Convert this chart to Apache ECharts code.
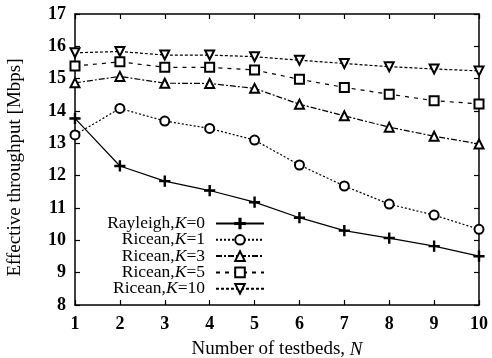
<!DOCTYPE html>
<html><head><meta charset="utf-8">
<script src="https://cdn.jsdelivr.net/npm/echarts@6/dist/echarts.min.js"></script>
<style>html,body{margin:0;padding:0;background:#fff}#c{width:492px;height:358px}</style>
</head><body><div id="c"></div>
<script>
const xs = [1,2,3,4,5,6,7,8,9,10];
const seriesNames = ['Rayleigh,K=0','Ricean,K=1','Ricean,K=3','Ricean,K=5','Ricean,K=10'];
const kLabels = ['Rayleigh,|0','Ricean,|1','Ricean,|3','Ricean,|5','Ricean,|10'];
const rayleigh0 = [13.77,12.30,11.83,11.54,11.18,10.70,10.30,10.07,9.82,9.51];
const ricean1 = [13.26,14.08,13.69,13.46,13.10,12.33,11.68,11.12,10.78,10.34];
const ricean3 = [14.87,15.07,14.86,14.85,14.70,14.21,13.85,13.50,13.22,12.98];
const ricean5 = [15.39,15.52,15.35,15.35,15.27,14.98,14.73,14.52,14.32,14.22];
const ricean10 = [15.80,15.84,15.73,15.73,15.68,15.57,15.47,15.37,15.30,15.24];
const yTicks = [8,9,10,11,12,13,14,15,16,17];

const values = [rayleigh0, ricean1, ricean3, ricean5, ricean10];
const symbols = [
  'path://M-0.6,-5H0.6V-0.6H5V0.6H0.6V5H-0.6V0.6H-5V-0.6H-0.6Z',
  'emptyCircle','emptyTriangle','emptyRect','emptyTriangle'
];
const rotates = [0,0,0,0,180];
const sizes = [10,9,9,9,9];
const dashes = ['solid',[2,2],[6,2,2,2],[4,5],[3,2]];
const serif = '"Liberation Serif","DejaVu Serif",serif';

const chart = echarts.init(document.getElementById('c'), null, {renderer:'canvas'});
const series = seriesNames.map((n,i)=>({
  name:n, type:'line',
  data: xs.map((x,j)=>[x, values[i][j]]),
  symbol: symbols[i], symbolSize: sizes[i], symbolRotate: rotates[i],
  showAllSymbol:true,
  lineStyle:{color:'#000', width:1.2, type:dashes[i]},
  itemStyle:{color:'#000', borderColor:'#000', borderWidth:1.2},
  emphasis:{disabled:true},
  animation:false,
  z: 5-i
}));

const axisCommon = {
  axisLine:{show:true,onZero:false,lineStyle:{color:'#000',width:1.5}},
  axisTick:{show:true,inside:true,length:5,lineStyle:{color:'#000',width:1.2}},
  splitLine:{show:false}
};

chart.setOption({
  animation:false,
  backgroundColor:'#fff',
  grid:{left:75,right:13,top:14,bottom:53,outerBoundsMode:'none',containLabel:false},
  legend:{
    orient:'vertical', align:'right', right:222, top:209.5,
    itemWidth:48, itemHeight:12, itemGap:-1.7,
    data: seriesNames,
    formatter: function(name){
      const i = seriesNames.indexOf(name);
      const p = kLabels[i].split('|');
      return '{a|'+p[0]+'}{i|K}{b|='+p[1]+'}';
    },
    textStyle:{
      fontFamily:serif, fontSize:17.5, color:'#000',
      rich:{
        a:{fontFamily:serif,fontSize:17.5,color:'#000'},
        i:{fontFamily:serif,fontSize:17.5,color:'#000',fontStyle:'italic'},
        b:{fontFamily:serif,fontSize:17.5,color:'#000',padding:[0,6,0,0]}
      }
    }
  },
  xAxis:[
    Object.assign({
      type:'value', min:1, max:10, interval:1, position:'bottom',
      name:'Number of testbeds, {i|N}', nameLocation:'middle', nameGap:35,
      nameTextStyle:{fontFamily:serif,fontSize:19,color:'#000',
        rich:{i:{fontFamily:serif,fontSize:19,fontStyle:'italic',color:'#000'}}},
      axisLabel:{fontFamily:serif,fontSize:18,fontWeight:'bold',color:'#000',margin:10}
    }, axisCommon),
    Object.assign({
      type:'value', min:1, max:10, interval:1, position:'top',
      axisLabel:{show:false}
    }, axisCommon)
  ],
  yAxis:[
    Object.assign({
      type:'value', min:yTicks[0], max:yTicks[yTicks.length-1], interval:1,
      name:'Effective throughput [Mbps]', nameLocation:'middle', nameGap:50,
      nameTextStyle:{fontFamily:serif,fontSize:19,color:'#000',padding:[0,16,0,0]},
      axisLabel:{fontFamily:serif,fontSize:18,fontWeight:'bold',color:'#000',margin:9}
    }, axisCommon),
    Object.assign({
      type:'value', min:yTicks[0], max:yTicks[yTicks.length-1], interval:1, position:'right',
      axisLabel:{show:false}
    }, axisCommon)
  ],
  series: series
});
</script></body></html>
